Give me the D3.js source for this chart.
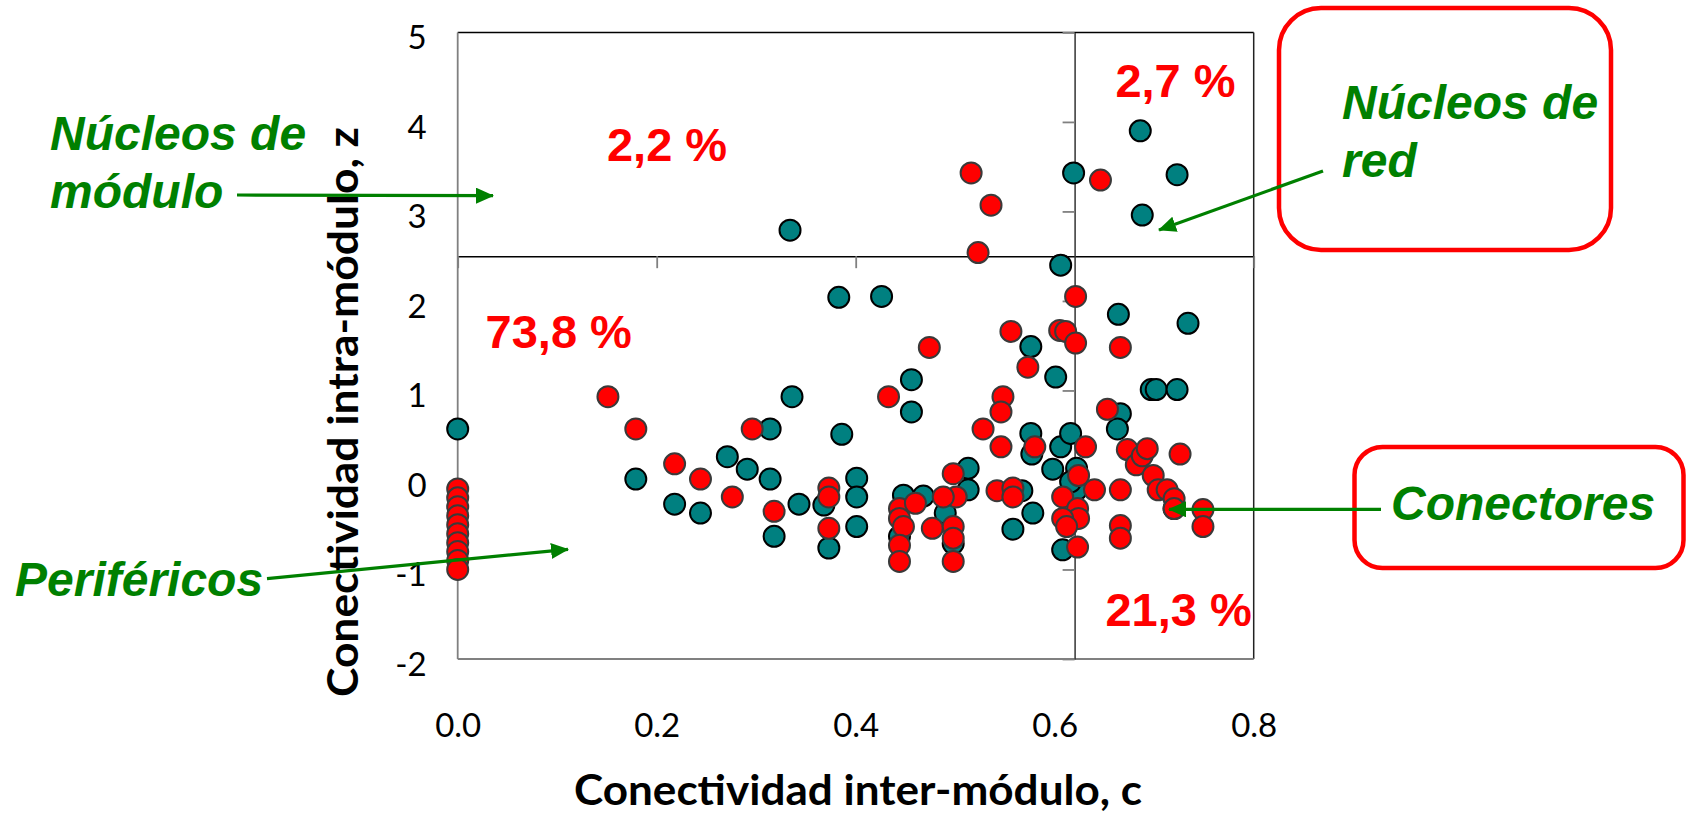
<!DOCTYPE html>
<html lang="es">
<head>
<meta charset="utf-8">
<title>Conectividad intra / inter módulo</title>
<script src="https://cdn.jsdelivr.net/npm/d3@7"></script>
<style>
body { margin: 0; background: #fff; }
svg { display: block; }
.tick text { font-family: Lato, "Open Sans", sans-serif; font-size: 33px; fill: #000; }
.pct { font-family: "Liberation Sans", Arial, sans-serif; font-weight: bold; font-size: 47px; fill: #ff0000; }
.note { font-family: "Liberation Sans", Arial, sans-serif; font-weight: bold; font-style: italic; font-size: 48px; fill: #008000; }
.title { font-family: Lato, "Open Sans", sans-serif; font-weight: bold; font-size: 42px; fill: #000; }
</style>
</head>
<body>
<script>

// series 1 (teal)
var tealC = [0.000, 0.179, 0.218, 0.244, 0.271, 0.291, 0.314, 0.314, 0.318, 0.334,
             0.336, 0.343, 0.368, 0.373, 0.383, 0.386, 0.401, 0.401, 0.401, 0.426,
             0.456, 0.456, 0.448, 0.468, 0.444, 0.490, 0.498, 0.513, 0.513, 0.567,
             0.558, 0.578, 0.576, 0.601, 0.576, 0.577, 0.606, 0.616, 0.598, 0.622,
             0.622, 0.616, 0.608, 0.606, 0.619, 0.686, 0.723, 0.688, 0.664, 0.734,
             0.697, 0.702, 0.723, 0.666, 0.663, 0.720];
var tealZ = [0.57, 0.01, -0.27, -0.37, 0.26, 0.12, 0.57, 0.01, -0.63, 2.79,
             0.93, -0.27, -0.28, -0.76, 2.04, 0.51, 0.02, -0.19, -0.52, 2.05,
             1.12, 0.76, -0.17, -0.18, -0.63, -0.37, -0.71, 0.13, -0.11, -0.12,
             -0.55, -0.37, 1.49, 1.15, 0.52, 0.29, 0.37, 0.52, 0.12, 0.13,
             -0.11, -0.02, -0.78, 2.40, 3.43, 3.90, 3.41, 2.96, 1.85, 1.75,
             1.01, 1.01, 1.01, 0.74, 0.57, -0.32];

// series 2 (red)
var redC = [0, 0, 0, 0, 0, 0, 0, 0, 0, 0,
            0.151, 0.179, 0.218, 0.244, 0.276, 0.296, 0.318, 0.373, 0.373, 0.373,
            0.433, 0.474, 0.444, 0.444, 0.448, 0.444, 0.444, 0.460, 0.477, 0.498,
            0.501, 0.488, 0.498, 0.498, 0.498, 0.516, 0.536, 0.523, 0.528, 0.548,
            0.546, 0.546, 0.542, 0.558, 0.558, 0.556, 0.573, 0.580, 0.605, 0.611,
            0.621, 0.621, 0.624, 0.631, 0.608, 0.623, 0.624, 0.608, 0.612, 0.623,
            0.640, 0.646, 0.653, 0.666, 0.666, 0.666, 0.666, 0.673, 0.682, 0.688,
            0.693, 0.699, 0.704, 0.713, 0.720, 0.720, 0.726, 0.749, 0.749];
var redZ = [-0.10, -0.20, -0.30, -0.40, -0.50, -0.60, -0.70, -0.80, -0.90, -1.00,
            0.93, 0.57, 0.18, 0.01, -0.19, 0.57, -0.35, -0.09, -0.19, -0.54,
            0.93, 1.48, -0.32, -0.43, -0.52, -0.73, -0.91, -0.26, -0.54, 0.07,
            -0.19, -0.19, -0.52, -0.65, -0.91, 3.43, 3.07, 2.54, 0.57, 0.93,
            0.76, 0.37, -0.12, -0.09, -0.19, 1.66, 1.26, 0.37, 1.67, 1.66,
            1.53, 2.05, 0.05, 0.37, -0.19, -0.32, -0.43, -0.43, -0.52, -0.75,
            -0.11, 3.35, 0.79, 1.48, -0.11, -0.51, -0.65, 0.34, 0.17, 0.27,
            0.35, 0.05, -0.11, -0.11, -0.21, -0.32, 0.29, -0.33, -0.52];

var xTicks = [0, 0.2, 0.4, 0.6, 0.8];
var yTicks = [-2, -1, 0, 1, 2, 3, 4, 5];
var cCut = 0.62, zCut = 2.5;

var pctLabels = [
  { text: "2,2 %", c: 0.150, z: 3.56 },
  { text: "2,7 %", c: 0.661, z: 4.28 },
  { text: "73,8 %", c: 0.028, z: 1.47 },
  { text: "21,3 %", c: 0.651, z: -1.63 }
];

var W = 1689, H = 814;
var x = d3.scaleLinear().domain([0, 0.8]).range([457.7, 1253.7]);
var y = d3.scaleLinear().domain([-2, 5]).range([659, 32.4]);

var svg = d3.select("body").append("svg")
  .attr("width", W)
  .attr("height", H);

var defs = svg.append("defs");
defs.append("marker")
  .attr("id", "arr")
  .attr("markerUnits", "userSpaceOnUse")
  .attr("markerWidth", 18).attr("markerHeight", 16)
  .attr("refX", 17).attr("refY", 8)
  .attr("orient", "auto")
  .append("path").attr("d", "M0,0L18,8L0,16Z").attr("fill", "#008000");

// plot frame
var frame = svg.append("g");
frame.append("line").attr("x1", x(0)).attr("x2", x(0.8)).attr("y1", y(5)).attr("y2", y(5))
  .attr("stroke", "#000").attr("stroke-width", 1.5);
frame.append("line").attr("x1", x(0.8)).attr("x2", x(0.8)).attr("y1", y(5)).attr("y2", y(-2))
  .attr("stroke", "#222").attr("stroke-width", 1.5);
frame.append("line").attr("x1", x(0)).attr("x2", x(0)).attr("y1", y(5)).attr("y2", y(-2))
  .attr("stroke", "#808080").attr("stroke-width", 1.8);
frame.append("line").attr("x1", x(0)).attr("x2", x(0.8)).attr("y1", y(-2)).attr("y2", y(-2))
  .attr("stroke", "#808080").attr("stroke-width", 1.8);

// axes crossing inside the plot
var xMid = svg.append("g")
  .attr("transform", "translate(0," + y(zCut) + ")")
  .call(d3.axisBottom(x).tickValues(xTicks).tickSizeInner(12).tickSizeOuter(0).tickFormat(""));
xMid.select(".domain").attr("stroke", "#000").attr("stroke-width", 1.5);
xMid.selectAll(".tick line").attr("stroke", "#808080").attr("stroke-width", 1.8);

var yMid = svg.append("g")
  .attr("transform", "translate(" + x(cCut) + ",0)")
  .call(d3.axisLeft(y).tickValues(yTicks).tickSizeInner(12).tickSizeOuter(0).tickFormat(""));
yMid.select(".domain").attr("stroke", "#333").attr("stroke-width", 1.5);
yMid.selectAll(".tick line").attr("stroke", "#808080").attr("stroke-width", 1.8);

// tick labels at the low side
var xLab = svg.append("g")
  .attr("transform", "translate(0," + y(-2) + ")")
  .call(d3.axisBottom(x).tickValues(xTicks).tickSize(0).tickPadding(52).tickFormat(d3.format(".1f")));
xLab.select(".domain").remove();
xLab.selectAll(".tick text").attr("dy", null).attr("y", 78);

var yLab = svg.append("g")
  .attr("transform", "translate(" + x(0) + ",0)")
  .call(d3.axisLeft(y).tickValues(yTicks).tickSize(0).tickPadding(31).tickFormat(function(d) { return String(d); }));
yLab.select(".domain").remove();
yLab.selectAll(".tick text").attr("dy", "0.5em");

// axis titles
svg.append("text").attr("class", "title")
  .attr("x", 858).attr("y", 805)
  .attr("text-anchor", "middle")
  .attr("textLength", 568).attr("lengthAdjust", "spacingAndGlyphs")
  .text("Conectividad inter-módulo, c");

svg.append("text").attr("class", "title")
  .attr("transform", "translate(358,412) rotate(-90)")
  .attr("text-anchor", "middle")
  .attr("textLength", 570).attr("lengthAdjust", "spacingAndGlyphs")
  .text("Conectividad intra-módulo, z");

// points
function pts(cs, zs) { return cs.map(function(c, i) { return [c, zs[i]]; }); }

svg.append("g").selectAll("circle")
  .data(pts(tealC, tealZ))
  .join("circle")
  .attr("cx", function(d) { return x(d[0]); })
  .attr("cy", function(d) { return y(d[1]); })
  .attr("r", 10.5)
  .attr("fill", "#008080")
  .attr("stroke", "#000")
  .attr("stroke-width", 2);

svg.append("g").selectAll("circle")
  .data(pts(redC, redZ))
  .join("circle")
  .attr("cx", function(d) { return x(d[0]); })
  .attr("cy", function(d) { return y(d[1]); })
  .attr("r", 10.5)
  .attr("fill", "#ff0000")
  .attr("stroke", "#3a3a3a")
  .attr("stroke-width", 2);

// quadrant percentages
svg.append("g").selectAll("text")
  .data(pctLabels)
  .join("text")
  .attr("class", "pct")
  .attr("x", function(d) { return x(d.c); })
  .attr("y", function(d) { return y(d.z); })
  .text(function(d) { return d.text; });

// boxes
svg.append("rect").attr("x", 1279).attr("y", 8).attr("width", 332).attr("height", 242)
  .attr("rx", 42).attr("fill", "none").attr("stroke", "#ff0000").attr("stroke-width", 4.5);
svg.append("rect").attr("x", 1354.5).attr("y", 447).attr("width", 329).attr("height", 121)
  .attr("rx", 28).attr("fill", "none").attr("stroke", "#ff0000").attr("stroke-width", 4.5);

// role labels
var notes = [
  { lines: ["Núcleos de", "módulo"], x: 50, y: 150 },
  { lines: ["Periféricos"], x: 15, y: 596 },
  { lines: ["Núcleos de", "red"], x: 1342, y: 119 },
  { lines: ["Conectores"], x: 1391, y: 520 }
];
notes.forEach(function(n) {
  var t = svg.append("text").attr("class", "note");
  n.lines.forEach(function(l, i) {
    t.append("tspan").attr("x", n.x).attr("y", n.y + i * 57.5).text(l);
  });
});

// arrows
var arrows = [
  [237, 195, 493, 195.7],
  [267, 578.7, 568, 549.3],
  [1323, 171, 1159, 230],
  [1381, 509.3, 1169, 509.3]
];
svg.append("g").selectAll("line")
  .data(arrows)
  .join("line")
  .attr("x1", function(d) { return d[0]; })
  .attr("y1", function(d) { return d[1]; })
  .attr("x2", function(d) { return d[2]; })
  .attr("y2", function(d) { return d[3]; })
  .attr("stroke", "#008000")
  .attr("stroke-width", 3.2)
  .attr("marker-end", "url(#arr)");

</script>
</body>
</html>
